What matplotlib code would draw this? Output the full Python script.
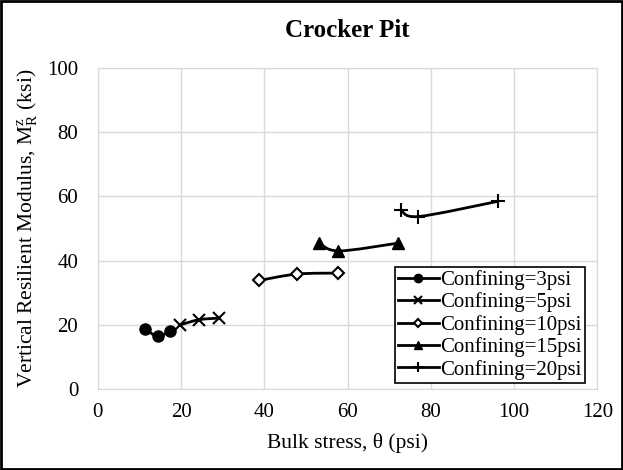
import numpy as np
import matplotlib
matplotlib.use('Agg')
import matplotlib.pyplot as plt
from matplotlib.path import Path
from matplotlib.patches import PathPatch, Rectangle
from matplotlib.lines import Line2D

# Datos
conf_3_x = [11.4, 14.4, 17.4]
conf_3_y = [18.8, 16.4, 18.2]
conf_5_x = [19.8, 24.3, 29.1]
conf_5_y = [20.0, 21.6, 22.1]
conf_10_x = [38.7, 47.8, 57.7]
conf_10_y = [33.8, 35.8, 36.1]
conf_15_x = [53.1, 57.8, 72.0]
conf_15_y = [45.6, 43.0, 45.4]
conf_20_x = [72.8, 77.0, 96.0]
conf_20_y = [55.8, 53.7, 58.4]

labels = ['Confining=3psi', 'Confining=5psi', 'Confining=10psi',
          'Confining=15psi', 'Confining=20psi']

plt.rcParams['font.family'] = ['Liberation Serif', 'DejaVu Serif']
plt.rcParams['mathtext.fontset'] = 'custom'
plt.rcParams['mathtext.rm'] = 'Liberation Serif'
plt.rcParams['mathtext.it'] = 'Liberation Serif'


def smooth_path(xs, ys):
    # curva suavizada tipo Excel (Bezier por segmentos)
    pts = np.column_stack([xs, ys])
    n = len(pts)
    verts = [pts[0]]
    codes = [Path.MOVETO]
    for i in range(n - 1):
        p0 = pts[i - 1] if i > 0 else pts[i]
        p1 = pts[i]
        p2 = pts[i + 1]
        p3 = pts[i + 2] if i + 2 < n else pts[i + 1]
        c1 = p1 + (p2 - p0) / 6
        c2 = p2 - (p3 - p1) / 6
        verts += [c1, c2, p2]
        codes += [Path.CURVE4] * 3
    return Path(verts, codes)


fig = plt.figure(figsize=(6.23, 4.70), dpi=100)
ax = fig.add_axes([0.157, 0.172, 0.802, 0.684])

series = [
    (conf_3_x, conf_3_y, dict(marker='o', markersize=8, markerfacecolor='black')),
    (conf_5_x, conf_5_y, dict(marker='x', markersize=8, markeredgewidth=1.5)),
    (conf_10_x, conf_10_y, dict(marker='D', markersize=6, markerfacecolor='white', markeredgewidth=1.5)),
    (conf_15_x, conf_15_y, dict(marker='^', markersize=8, markerfacecolor='black')),
    (conf_20_x, conf_20_y, dict(marker='+', markersize=10, markeredgewidth=1.5)),
]

handles = []
for (xs, ys, mk), lab in zip(series, labels):
    ax.add_patch(PathPatch(smooth_path(xs, ys), facecolor='none', edgecolor='black',
                           linewidth=2, zorder=3))
    ax.plot(xs, ys, linestyle='none', color='black', zorder=4, **mk)
    handles.append(Line2D([], [], color='black', linewidth=2, label=lab, **mk))

ax.set_xlim(0, 120)
ax.set_ylim(0, 100)
ax.set_xticks(range(0, 121, 20))
ax.set_yticks(range(0, 101, 20))
ax.grid(True, color='#d9d9d9', linewidth=1)
ax.set_axisbelow(True)
for s in ax.spines.values():
    s.set_color('#d9d9d9')
ax.tick_params(length=0, labelsize=15)
ax.tick_params(axis='y', pad=14)
ax.tick_params(axis='x', pad=10)

ax.set_title('Crocker Pit', fontsize=18, fontweight='bold', pad=22)
ax.set_xlabel('Bulk stress, θ (psi)', fontsize=15.5, labelpad=8)
ax.set_ylabel(r'Vertical Resilient Modulus, M$^{\mathrm{z}}_{\mathrm{R}}$ (ksi)', fontsize=15.5, labelpad=5)

leg = ax.legend(handles=handles, loc='lower right', bbox_to_anchor=(0.975, 0.02),
                fontsize=15, frameon=True, fancybox=False, edgecolor='black',
                framealpha=1, handlelength=2.0, handletextpad=0.05, markerscale=0.75,
                labelspacing=0.12, borderpad=0.15, borderaxespad=0)
leg.get_frame().set_linewidth(1.2)

# Borde exterior de la figura
fig.patches.append(Rectangle((0.002, 0.002), 0.996, 0.996, transform=fig.transFigure,
                             fill=False, edgecolor='black', linewidth=2))

plt.savefig('out.png', dpi=100)
